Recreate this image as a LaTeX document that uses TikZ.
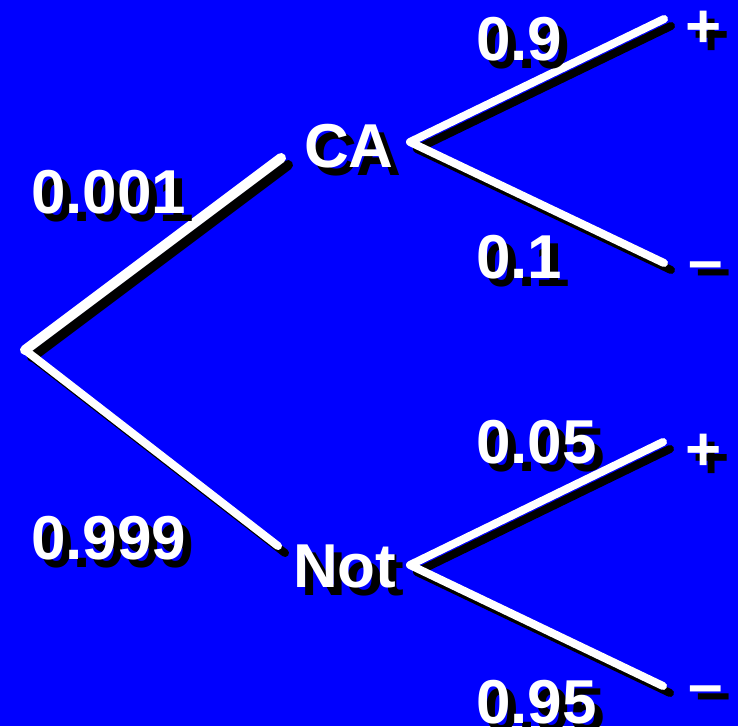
\documentclass[tikz,border=0pt]{standalone}
\usepackage{fontspec}
\setmainfont{Liberation Sans}
\usetikzlibrary{calc}
\definecolor{slideblue}{RGB}{0, 0, 255}

% label with a black drop shadow
\newcommand{\shlabel}[3]{%
  \node[lbl, text=black] at ($(#2)+(8,8)$) {#3};
  \node[lbl] (#1) at (#2) {#3};}

\begin{document}
\begin{tikzpicture}[
  x=1pt, y=-1pt,
  lbl/.style={text=white, font=\fontsize{62}{62}\selectfont\bfseries,
              inner sep=0pt, anchor=base west},
  branch/.style={white, line width=8pt, line cap=round, line join=round},
  branch shadow/.style={branch, draw=black,
                        transform canvas={shift={(7pt,-7pt)}}}
]
  \fill[slideblue] (0,0) rectangle (738,726);
  \useasboundingbox (0,0) rectangle (738,726);

  % junctions and line ends
  \coordinate (root) at (25,350);
  \coordinate (caend) at (281,158);
  \coordinate (notend) at (278,546);
  \coordinate (caj) at (410,142);
  \coordinate (capos) at (664,19);
  \coordinate (caneg) at (664,263);
  \coordinate (notj) at (410,565);
  \coordinate (notpos) at (663,442);
  \coordinate (notneg) at (663,686);

  % shadows first
  \draw[branch shadow, line width=10pt] (root) -- (caend);
  \draw[branch shadow] (root) -- (notend);
  \draw[branch shadow] (capos) -- (caj) -- (caneg);
  \draw[branch shadow] (notpos) -- (notj) -- (notneg);

  \draw[branch, line width=10pt] (root) -- (caend);
  \draw[branch] (root) -- (notend);
  \draw[branch] (capos) -- (caj) -- (caneg);
  \draw[branch] (notpos) -- (notj) -- (notneg);

  % labels
  \shlabel{pca}{31,213}{0.001}
  \shlabel{pnot}{31,559}{0.999}
  \shlabel{ca}{304,167}{CA}
  \shlabel{nt}{293,587}{Not}
  \shlabel{pposca}{476,60}{0.9}
  \shlabel{pnegca}{476,278}{0.1}
  \shlabel{pposnot}{476,463}{0.05}
  \shlabel{pnegnot}{476,723}{0.95}
  \shlabel{posca}{685,47}{+}
  \shlabel{negca}{688,281}{--}
  \shlabel{posnot}{685,470}{+}
  \shlabel{negnot}{688,705}{--}
\end{tikzpicture}
\end{document}
